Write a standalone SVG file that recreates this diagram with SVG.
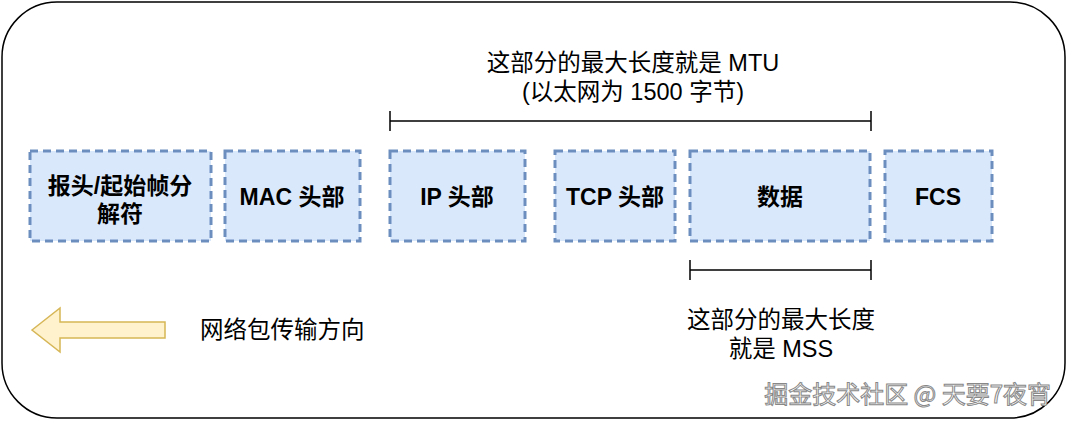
<svg xmlns="http://www.w3.org/2000/svg" width="1067" height="422" viewBox="0 0 1067 422">
<style>
.box{fill:#dae8fc;stroke:#6c8ebf;stroke-width:3;stroke-dasharray:8 5}
.bt{font-family:"Liberation Sans","Noto Sans CJK SC",sans-serif;font-size:23px;font-weight:bold;text-anchor:middle;fill:#000}
.t{font-family:"Liberation Sans","Noto Sans CJK SC",sans-serif;font-size:23.5px;text-anchor:middle;fill:#000}
.ln{stroke:#000;stroke-width:1.5;fill:none}
</style>
<rect x="2" y="2" width="1063" height="416" rx="55" fill="#fff" stroke="#000" stroke-width="1.5"/>
<g id="n1"><rect class="box" x="30" y="151" width="181" height="90"/><text class="bt" x="120" y="194">报头/起始帧分</text><text class="bt" x="120" y="222">解符</text></g>
<g id="n2"><rect class="box" x="225" y="151" width="135" height="90"/><text class="bt" x="292" y="205">MAC 头部</text></g>
<g id="n3"><rect class="box" x="390" y="151" width="135" height="90"/><text class="bt" x="457" y="205">IP 头部</text></g>
<g id="n4"><rect class="box" x="555" y="151" width="120" height="90"/><text class="bt" x="615" y="205">TCP 头部</text></g>
<g id="n5"><rect class="box" x="690" y="151" width="180" height="90"/><text class="bt" x="780" y="205">数据</text></g>
<g id="n6"><rect class="box" x="885" y="151" width="107" height="90"/><text class="bt" x="938" y="205">FCS</text></g>
<g id="connectors">
<path class="ln" d="M390 121H871M390 111V131M871 111V131"/>
<path class="ln" d="M690 270H871M690 260V280M871 260V280"/>
<path d="M32 330L60 308V322H165V338H60V352Z" fill="#fff2cc" stroke="#d6b656" stroke-width="1.5"/>
</g>
<text class="t" x="633" y="71">这部分的最大长度就是 MTU</text>
<text class="t" x="633" y="100">(以太网为 1500 字节)</text>
<text class="t" x="781" y="328">这部分的最大长度</text>
<text class="t" x="781" y="357">就是 MSS</text>
<text class="t" x="200" y="338" style="text-anchor:start">网络包传输方向</text>
<text x="1051" y="403" font-family="'Noto Sans CJK SC',sans-serif" font-size="24" fill="#fff" stroke="#888" stroke-width="1" text-anchor="end">掘金技术社区 @ 天要7夜宵</text>
</svg>
